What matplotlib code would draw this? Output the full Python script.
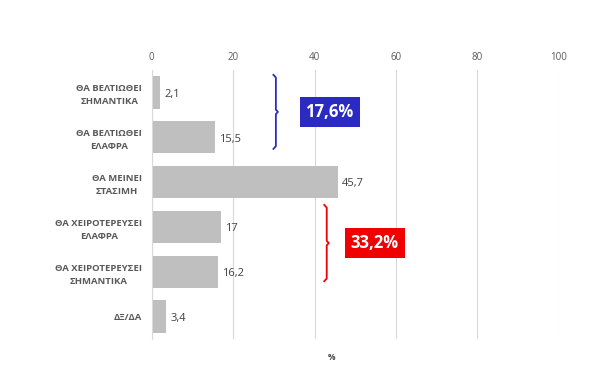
import matplotlib.pyplot as plt

plt.rcParams['font.family'] = ['Open Sans', 'DejaVu Sans']

categories = ['ΘΑ ΒΕΛΤΙΩΘΕΙ\nΣΗΜΑΝΤΙΚΑ', 'ΘΑ ΒΕΛΤΙΩΘΕΙ\nΕΛΑΦΡΑ', 'ΘΑ ΜΕΙΝΕΙ\nΣΤΑΣΙΜΗ',
              'ΘΑ ΧΕΙΡΟΤΕΡΕΥΣΕΙ\nΕΛΑΦΡΑ', 'ΘΑ ΧΕΙΡΟΤΕΡΕΥΣΕΙ\nΣΗΜΑΝΤΙΚΑ', 'ΔΞ/ΔΑ']
values = [2.1, 15.5, 45.7, 17, 16.2, 3.4]
value_labels = ['2,1', '15,5', '45,7', '17', '16,2', '3,4']
xticks = [0, 20, 40, 60, 80, 100]

# group summaries: (bracket top, bracket bottom, label, colour, bracket x, box x)
groups = [(-0.39, 1.26, '17,6%', '#2B2BC4', 30.5, 43.7),
          (2.51, 4.21, '33,2%', '#F00000', 43.0, 54.8)]

fig = plt.figure(figsize=(6, 3.78), dpi=100)
ax = fig.add_axes([0.253, 0.103, 0.678, 0.712])

y = list(range(len(categories)))
ax.barh(y, values, height=0.72, color='#BFBFBF', zorder=2)
for yi, v, lab in zip(y, values, value_labels):
    ax.text(v + 1.1, yi + 0.04, lab, va='center', ha='left', fontsize=8, color='#404040')

ax.set_xlim(0, 100)
ax.set_ylim(5.5, -0.5)
ax.set_xticks(xticks)
ax.xaxis.tick_top()
ax.tick_params(axis='x', length=0, labelsize=7, labelcolor='#595959', pad=5)
ax.set_yticks(y)
ax.set_yticklabels(categories, fontsize=6.8, fontweight='bold', color='#595959',
                   ha='right', multialignment='center', linespacing=1.55)
ax.tick_params(axis='y', length=0, pad=7)
ax.grid(axis='x', color='#D9D9D9', linewidth=0.8, zorder=0)
for s in ['top', 'right', 'bottom']:
    ax.spines[s].set_visible(False)
ax.spines['left'].set_color('#D9D9D9')

for top, bot, label, col, bx, tx in groups:
    mid = (top + bot) / 2
    xs = [bx - 0.6, bx, bx, bx + 0.5, bx, bx, bx - 0.6]
    ys = [top, top + 0.06, mid - 0.05, mid, mid + 0.05, bot - 0.06, bot]
    ax.plot(xs, ys, color=col, linewidth=1.3, zorder=4, solid_joinstyle='round')
    ax.text(tx, mid, label, ha='center', va='center', fontsize=12, fontweight='bold',
            color='white', zorder=5,
            bbox=dict(boxstyle='square,pad=0.35', facecolor=col, edgecolor='none'))

fig.text(0.553, 0.053, '%', ha='center', va='center', fontsize=6, fontweight='bold',
         color='#404040')

fig.savefig('out.png', dpi=100)
